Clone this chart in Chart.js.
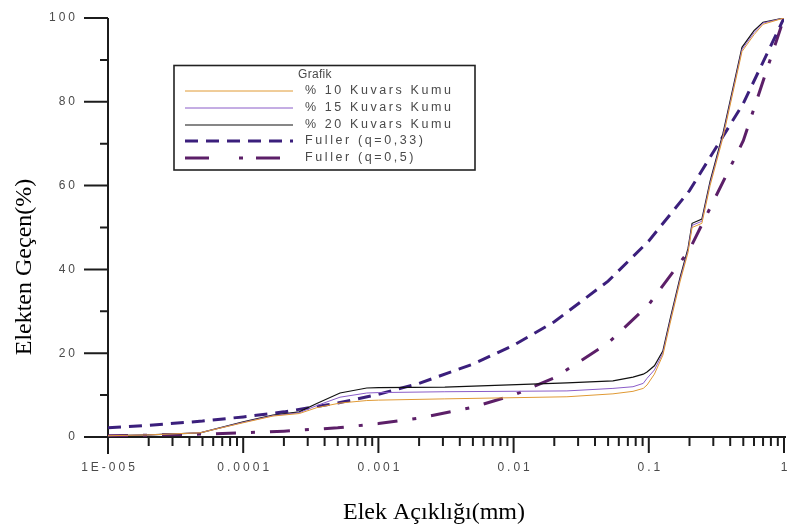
<!DOCTYPE html>
<html><head><meta charset="utf-8">
<script src="https://cdn.jsdelivr.net/npm/chart.js@4.4.1/dist/chart.umd.min.js"></script>
<style>html,body{margin:0;padding:0;background:#fff}#wrap{width:787px;height:530px;position:relative}</style>
</head><body><div id="wrap"><canvas id="c"></canvas></div>
<script>
// ---- data ----
const xKum = [1e-5, 2e-5, 4.8e-5, 1e-4, 1.66e-4, 2.6e-4, 3.5e-4, 5.2e-4, 8.2e-4, 1e-3, 3.1e-3, 0.0248, 0.0543, 0.0764, 0.091, 0.097, 0.11, 0.127, 0.1435, 0.17, 0.195, 0.209, 0.247, 0.284, 0.354, 0.489, 0.6, 0.7, 1];
const kum10 = [0.3, 0.5, 1.0, 3.4, 5.0, 5.6, 7.0, 8.1, 8.7, 8.8, 9.1, 9.6, 10.3, 10.9, 11.6, 12.4, 15.0, 19.5, 27, 37, 44, 50, 51, 60, 71.5, 92, 96, 98.5, 100];
const kum15 = [0.3, 0.5, 1.0, 3.5, 5.1, 5.8, 7.5, 9.5, 10.5, 10.6, 10.8, 11.0, 11.6, 12.0, 12.8, 14.0, 16.0, 20, 27.5, 37.5, 44.5, 50.5, 51.5, 60.5, 72, 92.5, 96.5, 98.8, 100];
const kum20 = [0.3, 0.5, 1.0, 3.6, 5.2, 6.0, 8.0, 10.5, 11.7, 11.8, 11.9, 12.9, 13.4, 14.3, 15.0, 15.5, 17.0, 20.5, 28, 38, 45, 51, 52, 61, 72.5, 93, 97, 99, 100];
const xFuller = [1e-5, 2e-5, 5e-5, 1e-4, 2e-4, 5e-4, 1e-3, 2e-3, 5e-3, 0.01, 0.02, 0.05, 0.1, 0.2, 0.5, 1];
const fuller033 = [2.2, 2.8, 3.8, 4.8, 6.0, 8.1, 10.2, 12.8, 17.4, 21.9, 27.5, 37.2, 46.8, 58.8, 79.6, 100];
const fuller05 = [0.3, 0.45, 0.7, 1.0, 1.4, 2.2, 3.2, 4.5, 7.1, 10, 14.1, 22.4, 31.6, 44.7, 70.7, 100];

const seriesNames = ['% 10 Kuvars Kumu', '% 15 Kuvars Kumu', '% 20 Kuvars Kumu', 'Fuller (q=0,33)', 'Fuller (q=0,5)'];
const legendTitle = 'Grafik';
const xTitle = 'Elek Açıklığı(mm)';
const yTitle = 'Elekten Geçen(%)';
const xTickValues = [1e-5, 1e-4, 1e-3, 1e-2, 1e-1, 1];
const xTickLabels = ['1E-005', '0.0001', '0.001', '0.01', '0.1', '1'];
const xMinorMultipliers = [2, 3, 4, 5, 6, 7, 8, 9];
const yTickValues = [0, 20, 40, 60, 80, 100];
const yTickLabels = ['0', '20', '40', '60', '80', '100'];
const yMinorValues = [10, 30, 50, 70, 90];

function pts(xs, ys) { return xs.map((x, i) => ({ x: x, y: ys[i] })); }

const AXIS = '#1c1c1c';
const LABEL = '#4a4a4a';

function spacedText(ctx, text, x, y, align, ls) {
  ctx.letterSpacing = ls + 'px';
  const w = ctx.measureText(text).width - ls;
  let sx = x;
  if (align === 'center') sx = x - w / 2;
  else if (align === 'right') sx = x - w;
  ctx.textAlign = 'left';
  ctx.fillText(text, sx, y);
  ctx.letterSpacing = '0px';
}

const axesPlugin = {
  id: 'axesPlugin',
  beforeDatasetsDraw(chart) {
    const ctx = chart.ctx, xs = chart.scales.x, ys = chart.scales.y;
    const x0 = xs.getPixelForValue(xTickValues[0]);
    const x1 = xs.getPixelForValue(xTickValues[xTickValues.length - 1]);
    const y0 = ys.getPixelForValue(0);
    const yTop = ys.getPixelForValue(100);
    ctx.save();
    ctx.strokeStyle = AXIS;
    ctx.lineWidth = 2;
    ctx.lineCap = 'butt';
    ctx.beginPath();
    ctx.moveTo(x0, yTop); ctx.lineTo(x0, y0 + 17);
    ctx.moveTo(x0 - 1, y0); ctx.lineTo(x1 + 2, y0);
    yTickValues.forEach(v => { const p = ys.getPixelForValue(v); ctx.moveTo(x0 - 24, p); ctx.lineTo(x0, p); });
    yMinorValues.forEach(v => { const p = ys.getPixelForValue(v); ctx.moveTo(x0 - 8, p); ctx.lineTo(x0, p); });
    xTickValues.forEach((v, i) => {
      const p = xs.getPixelForValue(v);
      ctx.moveTo(p, y0); ctx.lineTo(p, y0 + 16);
      if (i < xTickValues.length - 1) {
        xMinorMultipliers.forEach(m => { const q = xs.getPixelForValue(v * m); ctx.moveTo(q, y0); ctx.lineTo(q, y0 + 9); });
      }
    });
    ctx.stroke();
    ctx.fillStyle = LABEL;
    ctx.font = '12px "Liberation Sans", Arial, sans-serif';
    ctx.textBaseline = 'middle';
    yTickValues.forEach((v, i) => spacedText(ctx, yTickLabels[i], 75, ys.getPixelForValue(v), 'right', 3));
    xTickValues.forEach((v, i) => spacedText(ctx, xTickLabels[i], xs.getPixelForValue(v), y0 + 31, 'center', 3));
    ctx.fillStyle = '#000';
    ctx.font = '24px "Liberation Serif", "Times New Roman", serif';
    ctx.textAlign = 'center';
    ctx.textBaseline = 'alphabetic';
    ctx.fillText(xTitle, 434, 519);
    ctx.save();
    ctx.translate(31, 267);
    ctx.rotate(-Math.PI / 2);
    ctx.fillText(yTitle, 0, 0);
    ctx.restore();
    ctx.restore();
  },
  afterDraw(chart) {
    const ctx = chart.ctx;
    ctx.save();
    ctx.fillStyle = '#fff';
    ctx.fillRect(174, 65, 301, 105);
    ctx.strokeStyle = '#222';
    ctx.lineWidth = 1.6;
    ctx.strokeRect(174, 65.5, 301, 104.5);
    ctx.fillStyle = LABEL;
    ctx.textBaseline = 'middle';
    ctx.font = '12px "Liberation Sans", Arial, sans-serif';
    spacedText(ctx, legendTitle, 298, 75, 'left', 0.3);
    const rowsY = [91, 108, 125, 141, 158];
    chart.data.datasets.forEach((ds, i) => {
      const yy = rowsY[i];
      ctx.strokeStyle = ds.borderColor;
      ctx.lineWidth = ds.borderWidth;
      ctx.setLineDash(ds.legendDash || ds.borderDash || []);
      ctx.beginPath();
      ctx.moveTo(185, yy); ctx.lineTo(293, yy);
      ctx.stroke();
      ctx.setLineDash([]);
      ctx.fillStyle = LABEL;
      ctx.font = '12.5px "Liberation Sans", Arial, sans-serif';
      spacedText(ctx, ds.label, 305, yy, 'left', 2.6);
    });
    ctx.restore();
  }
};

const common = { pointRadius: 0, pointHoverRadius: 0, tension: 0, fill: false, borderCapStyle: 'butt' };

new Chart(document.getElementById('c'), {
  type: 'line',
  data: {
    datasets: [
      Object.assign({ label: seriesNames[0], data: pts(xKum, kum10), borderColor: '#e09a35', borderWidth: 1 }, common),
      Object.assign({ label: seriesNames[1], data: pts(xKum, kum15), borderColor: '#8a5cc8', borderWidth: 1 }, common),
      Object.assign({ label: seriesNames[2], data: pts(xKum, kum20), borderColor: '#111111', borderWidth: 1.2 }, common),
      Object.assign({ label: seriesNames[3], data: pts(xFuller, fuller033), borderColor: '#3b1f7c', borderWidth: 3, borderDash: [13, 8] }, common),
      Object.assign({ label: seriesNames[4], data: pts(xFuller, fuller05), borderColor: '#5c1f68', borderWidth: 3, borderDash: [20, 15, 4, 15], legendDash: [24, 30, 4, 13] }, common)
    ]
  },
  options: {
    responsive: true,
    maintainAspectRatio: false,
    devicePixelRatio: 1,
    animation: false,
    layout: { padding: { left: 108, top: 18, right: 3, bottom: 93 } },
    plugins: { legend: { display: false }, tooltip: { enabled: false } },
    scales: {
      x: { type: 'logarithmic', min: 1e-5, max: 1, display: false },
      y: { type: 'linear', min: 0, max: 100, display: false }
    }
  },
  plugins: [axesPlugin]
});
</script>
</body></html>
